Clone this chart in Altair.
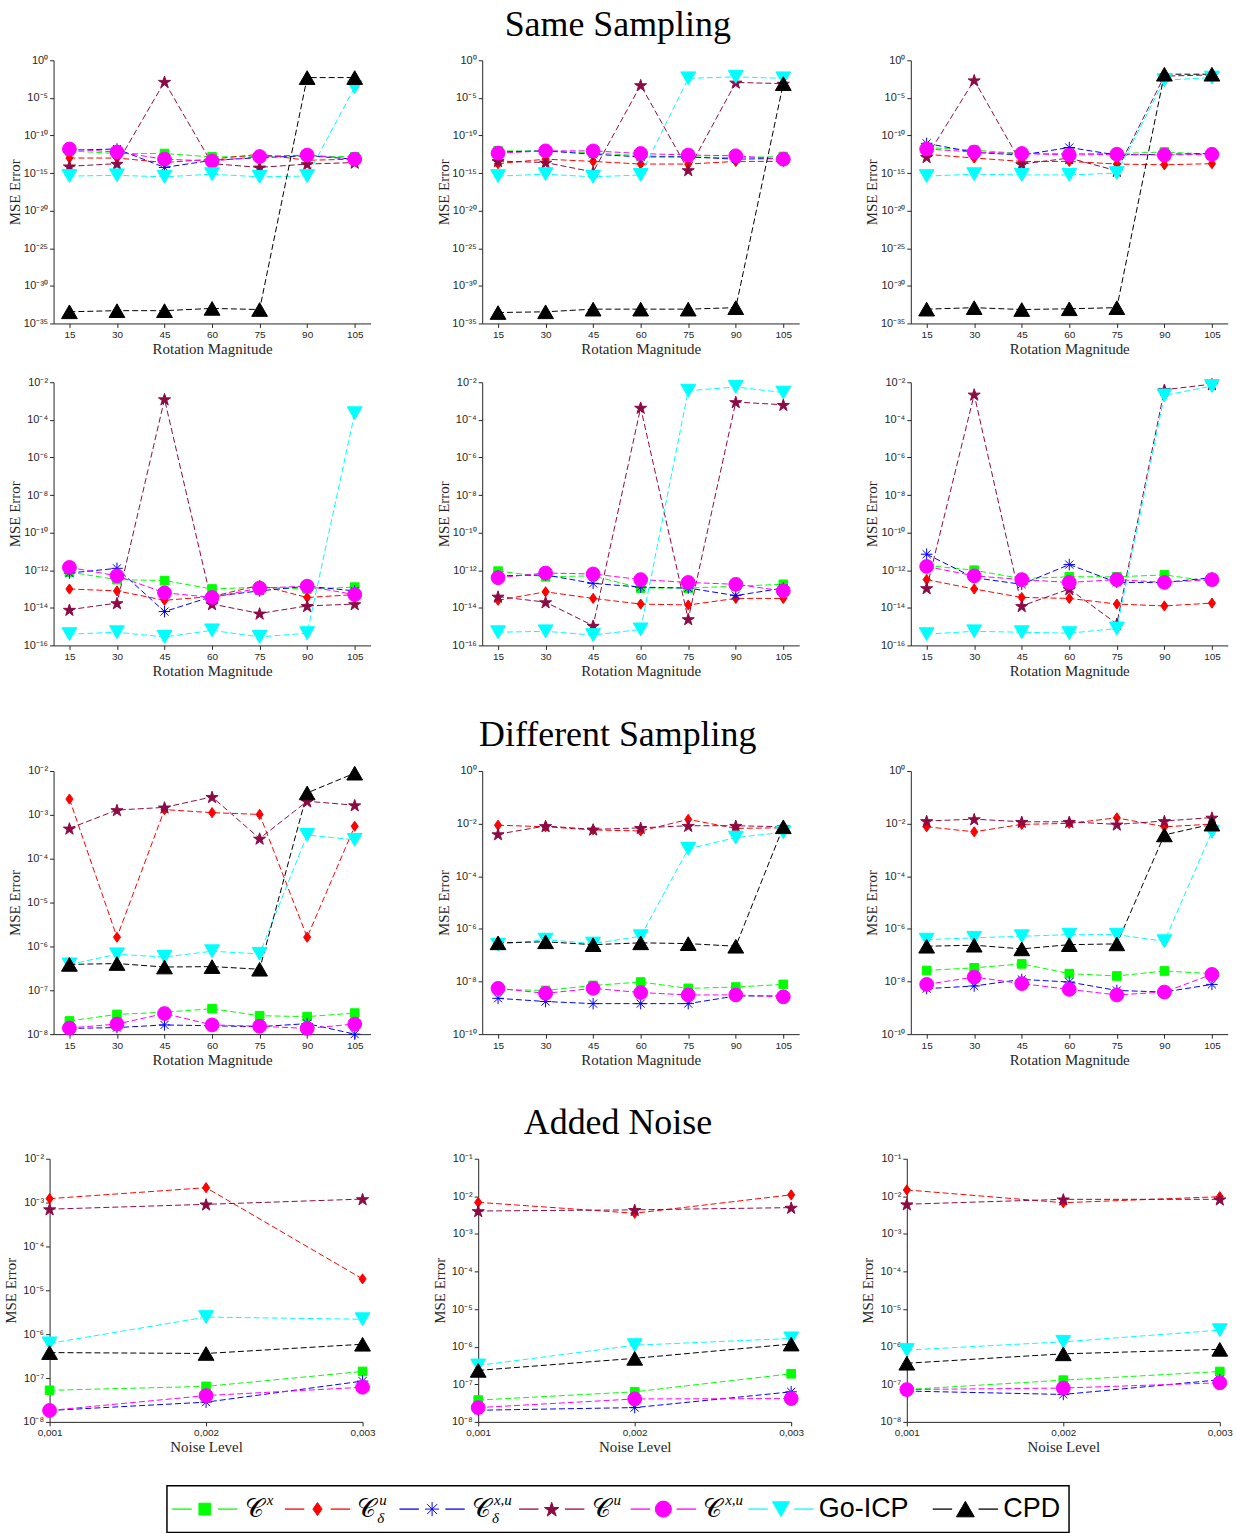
import altair as alt
import pandas as pd

# ---------------- data (log10 of MSE error) ----------------
rotation = [15, 30, 45, 60, 75, 90, 105]
noise_level = [0.001, 0.002, 0.003]
methods = ["Cx", "Cu_delta", "Cxu_delta", "Cu", "Cxu", "Go-ICP", "CPD"]

# Same sampling, row 1
same1_a = {
    "Cx": [-12.05, -12.4, -12.4, -12.85, -12.8, -12.7, -12.85],
    "Cu_delta": [-13.0, -13.0, -13.6, -13.15, -12.5, -13.3, -13.15],
    "Cxu_delta": [-11.95, -11.8, -14.25, -13.3, -12.95, -12.7, -13.15],
    "Cu": [-14.1, -13.75, -2.85, -13.75, -14.25, -13.8, -13.6],
    "Cxu": [-11.8, -12.2, -13.15, -13.4, -12.8, -12.6, -13.15],
    "Go-ICP": [-15.4, -15.3, -15.5, -15.15, -15.5, -15.4, -3.6],
    "CPD": [-33.45, -33.3, -33.3, -33.0, -33.15, -2.3, -2.3],
}
same1_b = {
    "Cx": [-12.05, -12.05, -12.3, -12.7, -12.85, -12.95, -12.8],
    "Cu_delta": [-13.75, -13.15, -13.45, -13.8, -13.8, -13.45, -13.45],
    "Cxu_delta": [-12.2, -12.05, -12.5, -12.85, -12.85, -13.15, -13.05],
    "Cu": [-13.4, -13.6, -14.85, -3.3, -14.6, -2.95, -3.1],
    "Cxu": [-12.35, -12.05, -12.05, -12.4, -12.6, -12.7, -13.15],
    "Go-ICP": [-15.4, -15.15, -15.5, -15.25, -2.4, -2.2, -2.4],
    "CPD": [-33.55, -33.45, -33.1, -33.1, -33.1, -32.9, -3.1],
}
same1_c = {
    "Cx": [-11.6, -11.95, -12.4, -12.4, -12.4, -12.2, -12.5],
    "Cu_delta": [-12.5, -13.0, -13.45, -13.45, -13.8, -13.9, -13.75],
    "Cxu_delta": [-11.05, -12.25, -12.6, -11.6, -12.6, -12.5, -12.4],
    "Cu": [-12.85, -2.65, -13.8, -13.0, -14.7, -2.1, -1.95],
    "Cxu": [-11.8, -12.2, -12.4, -12.6, -12.5, -12.6, -12.5],
    "Go-ICP": [-15.4, -15.15, -15.25, -15.25, -15.0, -2.65, -2.3],
    "CPD": [-33.1, -32.9, -33.15, -33.05, -32.9, -1.85, -1.85],
}
# Same sampling, row 2
same2_a = {
    "Cx": [-12.1, -12.5, -12.55, -13.0, -12.9, -13.0, -12.9],
    "Cu_delta": [-13.0, -13.1, -13.6, -13.4, -12.8, -13.45, -13.3],
    "Cxu_delta": [-12.15, -11.9, -14.2, -13.4, -13.1, -12.85, -13.1],
    "Cu": [-14.1, -13.75, -2.9, -13.8, -14.3, -13.9, -13.8],
    "Cxu": [-11.85, -12.3, -13.2, -13.45, -12.95, -12.85, -13.3],
    "Go-ICP": [-15.4, -15.3, -15.55, -15.2, -15.55, -15.35, -3.65],
}
same2_b = {
    "Cx": [-12.05, -12.35, -12.3, -12.95, -12.95, -12.85, -12.75],
    "Cu_delta": [-13.6, -13.15, -13.5, -13.8, -13.85, -13.5, -13.5],
    "Cxu_delta": [-12.3, -12.25, -12.7, -12.9, -12.95, -13.35, -12.95],
    "Cu": [-13.4, -13.7, -14.95, -3.35, -14.6, -3.05, -3.2],
    "Cxu": [-12.4, -12.15, -12.2, -12.5, -12.65, -12.75, -13.1],
    "Go-ICP": [-15.3, -15.25, -15.45, -15.15, -2.45, -2.25, -2.55],
}
same2_c = {
    "Cx": [-11.75, -12.0, -12.45, -12.35, -12.35, -12.25, -12.6],
    "Cu_delta": [-12.5, -13.0, -13.45, -13.5, -13.8, -13.9, -13.75],
    "Cxu_delta": [-11.15, -12.4, -12.75, -11.7, -12.65, -12.65, -12.4],
    "Cu": [-12.95, -2.65, -13.9, -13.0, -14.85, -2.4, -2.1],
    "Cxu": [-11.8, -12.3, -12.5, -12.65, -12.5, -12.65, -12.5],
    "Go-ICP": [-15.4, -15.25, -15.3, -15.35, -15.1, -2.7, -2.2],
}
# Different sampling
diff_a = {
    "Cx": [-7.7, -7.55, -7.5, -7.42, -7.58, -7.6, -7.52],
    "Cu_delta": [-2.64, -5.79, -2.88, -2.95, -2.99, -5.79, -3.26],
    "Cxu_delta": [-7.87, -7.85, -7.79, -7.81, -7.83, -7.76, -8.0],
    "Cu": [-3.31, -2.89, -2.83, -2.59, -3.54, -2.69, -2.78],
    "Cxu": [-7.86, -7.77, -7.53, -7.79, -7.82, -7.87, -7.77],
    "Go-ICP": [-6.41, -6.18, -6.24, -6.11, -6.17, -3.46, -3.57],
    "CPD": [-6.41, -6.39, -6.47, -6.46, -6.52, -2.5, -2.05],
}
diff_b = {
    "Cx": [-8.3, -8.34, -8.15, -8.02, -8.26, -8.21, -8.11],
    "Cu_delta": [-2.06, -2.12, -2.24, -2.28, -1.84, -2.18, -2.16],
    "Cxu_delta": [-8.64, -8.76, -8.84, -8.84, -8.84, -8.55, -8.55],
    "Cu": [-2.4, -2.09, -2.22, -2.16, -2.08, -2.08, -2.12],
    "Cxu": [-8.26, -8.45, -8.26, -8.42, -8.51, -8.51, -8.58],
    "Go-ICP": [-6.6, -6.41, -6.56, -6.28, -2.96, -2.53, -2.33],
    "CPD": [-6.53, -6.49, -6.6, -6.53, -6.56, -6.66, -2.12],
}
diff_c = {
    "Cx": [-7.58, -7.48, -7.33, -7.7, -7.79, -7.6, -7.7],
    "Cu_delta": [-2.12, -2.31, -2.03, -1.99, -1.78, -2.12, -2.02],
    "Cxu_delta": [-8.27, -8.17, -7.92, -8.02, -8.34, -8.4, -8.11],
    "Cu": [-1.9, -1.83, -1.93, -1.93, -2.03, -1.9, -1.77],
    "Cxu": [-8.11, -7.83, -8.08, -8.3, -8.51, -8.4, -7.73],
    "Go-ICP": [-6.41, -6.34, -6.28, -6.22, -6.22, -6.47, -2.31],
    "CPD": [-6.66, -6.62, -6.76, -6.6, -6.57, -2.43, -2.02],
}
# Added noise
noise_a = {
    "Cx": [-7.28, -7.19, -6.85],
    "Cu_delta": [-2.91, -2.66, -4.74],
    "Cxu_delta": [-7.74, -7.55, -7.07],
    "Cu": [-3.15, -3.04, -2.92],
    "Cxu": [-7.74, -7.4, -7.21],
    "Go-ICP": [-6.21, -5.61, -5.66],
    "CPD": [-6.42, -6.44, -6.23],
}
noise_b = {
    "Cx": [-7.42, -7.2, -6.72],
    "Cu_delta": [-2.16, -2.45, -1.96],
    "Cxu_delta": [-7.69, -7.62, -7.2],
    "Cu": [-2.39, -2.36, -2.3],
    "Cxu": [-7.62, -7.39, -7.38],
    "Go-ICP": [-6.5, -5.96, -5.78],
    "CPD": [-6.63, -6.31, -5.93],
}
noise_c = {
    "Cx": [-7.14, -6.89, -6.66],
    "Cu_delta": [-1.83, -2.17, -2.01],
    "Cxu_delta": [-7.18, -7.27, -6.88],
    "Cu": [-2.21, -2.08, -2.08],
    "Cxu": [-7.14, -7.1, -6.96],
    "Go-ICP": [-6.09, -5.87, -5.56],
    "CPD": [-6.44, -6.19, -6.07],
}

# legend text pieces
legend_base = ["𝒞", "𝒞", "𝒞", "𝒞", "𝒞", "", ""]
legend_sup = ["x", "u", "x,u", "u", "x,u", "", ""]
legend_sub = ["", "δ", "δ", "", "", "", ""]
legend_plain = ["", "", "", "", "", "Go-ICP", "CPD"]

# ---------------- styles ----------------
colors = ["#00ff00", "#ff0000", "#0000ff", "#8c0b45", "#ff00ff", "#00ffff", "#000000"]
STAR = ("M0,-0.9L0.225,-0.209L0.951,-0.209L0.363,0.218L0.588,0.909L0,0.482"
        "L-0.588,0.909L-0.363,0.218L-0.951,-0.209L-0.225,-0.209Z")
ASTER = "M-1,0L1,0M0,-1L0,1M-0.7,-0.7L0.7,0.7M-0.7,0.7L0.7,-0.7"
DIAMOND = "M0,-1L0.7,0L0,1L-0.7,0Z"
shapes = ["square", DIAMOND, ASTER, STAR, "circle", "triangle-down", "triangle-up"]
sizes = [75, 250, 120, 180, 120, 130, 130]
legend_sizes = [140, 320, 180, 300, 200, 230, 230]

color_scale = alt.Scale(domain=methods, range=colors)
shape_scale = alt.Scale(domain=methods, range=shapes)
size_scale = alt.Scale(domain=methods, range=sizes)
legend_size_scale = alt.Scale(domain=methods, range=legend_sizes)

sup_pairs = [("-", "⁻"), ("0", "⁰"), ("1", "¹"), ("2", "²"), ("3", "³"), ("4", "⁴"),
             ("5", "⁵"), ("6", "⁶"), ("7", "⁷"), ("8", "⁸"), ("9", "⁹")]
_e = "'' + round(log(datum.value) / LN10)"
for a, b in sup_pairs:
    _e = f"replace({_e}, regexp('{a}', 'g'), '{b}')"
SUP_EXPR = "'10' + " + _e

PANEL_H = 264


def decades(lo, hi, step):
    return [10.0 ** k for k in range(lo, hi + 1, step)]


def make_panel(xs, series, xdomain, xvalues, xtitle, ydom, yvalues, width, xlabel_expr=None):
    recs = []
    for m in methods:
        if m in series:
            for xv, lv in zip(xs, series[m]):
                recs.append({"x": xv, "method": m, "mse": 10.0 ** lv})
    df = pd.DataFrame(recs)
    xkw = dict(values=xvalues, title=xtitle, labelPadding=2, titlePadding=2, labelFontSize=10)
    if xlabel_expr:
        xkw["labelExpr"] = xlabel_expr
    x = alt.X("x:Q", scale=alt.Scale(domain=xdomain, nice=False, zero=False), axis=alt.Axis(**xkw))
    y = alt.Y("mse:Q", scale=alt.Scale(type="log", domain=ydom, nice=False),
              axis=alt.Axis(values=yvalues, title="MSE Error", labelExpr=SUP_EXPR,
                            minExtent=28, maxExtent=28, titlePadding=3))
    base = alt.Chart(df)
    lines = base.mark_line(strokeDash=[6, 3], strokeWidth=1).encode(
        x=x, y=y, color=alt.Color("method:N", scale=color_scale, legend=None))
    pts = base.mark_point(filled=True, opacity=1, strokeWidth=1).encode(
        x=x, y=y,
        shape=alt.Shape("method:N", scale=shape_scale, legend=None),
        fill=alt.Fill("method:N", scale=color_scale, legend=None),
        stroke=alt.Stroke("method:N", scale=color_scale, legend=None),
        size=alt.Size("method:N", scale=size_scale, legend=None))
    return alt.layer(lines, pts).properties(width=width, height=PANEL_H)


def rot_panel(series, lo, hi, step):
    return make_panel(rotation, series, [10, 110], rotation, "Rotation Magnitude",
                      [10.0 ** lo, 10.0 ** hi], decades(lo, hi, step), 318)


def noise_panel(series, lo, hi):
    return make_panel(noise_level, series, [0.001, 0.003], noise_level, "Noise Level",
                      [10.0 ** lo, 10.0 ** hi], decades(lo, hi, 1), 314,
                      xlabel_expr="replace(format(datum.value, '.3f'), '.', ',')")


row1 = alt.hconcat(rot_panel(same1_a, -35, 0, 5), rot_panel(same1_b, -35, 0, 5),
                   rot_panel(same1_c, -35, 0, 5), spacing=112, bounds="flush")
row2 = alt.hconcat(rot_panel(same2_a, -16, -2, 2), rot_panel(same2_b, -16, -2, 2),
                   rot_panel(same2_c, -16, -2, 2), spacing=112, bounds="flush")
row3 = alt.hconcat(rot_panel(diff_a, -8, -2, 1), rot_panel(diff_b, -10, 0, 2),
                   rot_panel(diff_c, -10, 0, 2), spacing=112, bounds="flush")
row4 = alt.hconcat(noise_panel(noise_a, -8, -2), noise_panel(noise_b, -8, -1),
                   noise_panel(noise_c, -8, -1), spacing=116, bounds="flush")

# ---------------- legend ----------------
leg_df = pd.DataFrame({
    "slot": list(range(len(methods))),
    "method": methods,
    "base": legend_base,
    "sup": legend_sup,
    "sub": legend_sub,
    "plain": legend_plain,
})
lx = alt.X("slot:Q", scale=alt.Scale(domain=[0, 1, 2, 3, 4, 5, 6],
                                     range=[38, 151, 266, 386, 498, 616, 801]), axis=None)
lbase = alt.Chart(leg_df)
one = alt.Chart(pd.DataFrame({"box": [0]}))
frame = one.mark_rect(fill="transparent", stroke="black", strokeWidth=1.5).encode(
    x=alt.value(0), x2=alt.value("width"), y=alt.value(0), y2=alt.value("height"))
# invisible spacer that balances the legend's layout bounds so it is centred like the reference
balance = one.mark_rect(fill="transparent", strokeOpacity=0, x2Offset=46).encode(
    x=alt.value("width"), x2=alt.value("width"), y=alt.value(0), y2=alt.value("height"))
dash_kw = dict(shape="stroke", filled=False, size=380, strokeWidth=1.3, opacity=1)
l_dash_l = lbase.mark_point(xOffset=-23, **dash_kw).encode(
    x=lx, stroke=alt.Stroke("method:N", scale=color_scale, legend=None))
l_dash_r = lbase.mark_point(xOffset=23, **dash_kw).encode(
    x=lx, stroke=alt.Stroke("method:N", scale=color_scale, legend=None))
l_mark = lbase.mark_point(filled=True, opacity=1, strokeWidth=1).encode(
    x=lx,
    shape=alt.Shape("method:N", scale=shape_scale, legend=None),
    fill=alt.Fill("method:N", scale=color_scale, legend=None),
    stroke=alt.Stroke("method:N", scale=color_scale, legend=None),
    size=alt.Size("method:N", scale=legend_size_scale, legend=None))
l_base = lbase.mark_text(align="left", baseline="middle", dx=40, fontSize=26,
                         font="DejaVu Serif", color="black").encode(x=lx, text="base:N")
l_sup = lbase.mark_text(align="left", baseline="middle", dx=62, dy=-9, fontSize=15,
                        font="Liberation Serif", fontStyle="italic", color="black").encode(x=lx, text="sup:N")
l_sub = lbase.mark_text(align="left", baseline="middle", dx=60, dy=9, fontSize=15,
                        font="Liberation Serif", fontStyle="italic", color="black").encode(x=lx, text="sub:N")
l_plain = lbase.mark_text(align="left", baseline="middle", dx=38, fontSize=27,
                          font="Liberation Sans", color="black").encode(x=lx, text="plain:N")
legend = alt.layer(frame, balance, l_dash_l, l_dash_r, l_mark, l_base, l_sup, l_sub,
                   l_plain).properties(width=905, height=47)


def ttl(t):
    return alt.TitleParams(t, anchor="middle", frame="bounds", offset=10)


block1 = alt.vconcat(row1, row2, spacing=18, title=ttl("Same Sampling"))
block2 = alt.vconcat(row3, title=ttl("Different Sampling"))
block3 = alt.vconcat(row4, legend, spacing=28, center=True,
                     title=ttl("Added Noise")).resolve_scale(size="independent")

chart = alt.vconcat(block1, block2, block3, spacing=37, center=True).resolve_scale(
    size="independent"
).properties(
    padding={"left": 3, "top": 4, "right": 3, "bottom": 0}
).configure_axis(
    domainColor="#262626", tickColor="#262626", labelColor="#262626", titleColor="#262626",
    labelFont="Liberation Sans", labelFontSize=11, titleFont="Liberation Serif",
    titleFontSize=15, titleFontWeight="normal", grid=False, tickSize=4,
    labelFlush=False, labelOverlap=False, domainWidth=1,
).configure_view(stroke="transparent").configure_title(
    font="Liberation Serif", fontSize=36, fontWeight="normal", color="black",
)

chart.save("out.html", embed_options={"renderer": "svg", "actions": False})
